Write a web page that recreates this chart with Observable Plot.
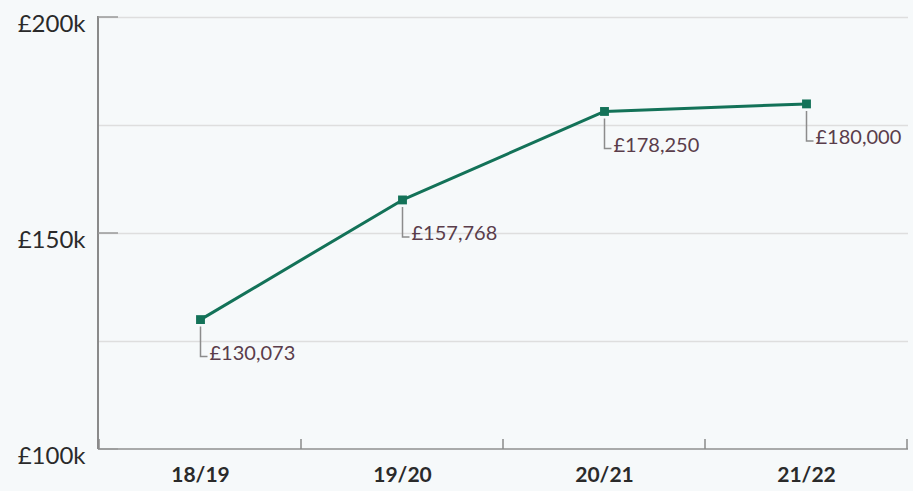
<!DOCTYPE html>
<html><head><meta charset="utf-8">
<script src="https://cdn.jsdelivr.net/npm/d3@7"></script>
<script src="https://cdn.jsdelivr.net/npm/@observablehq/plot@0.6"></script>
<style>html,body{margin:0;padding:0;background:#f6f9fa;}</style>
</head><body><div id="chart"></div>
<script>
const years = ["18/19", "19/20", "20/21", "21/22"];
const values = [130073, 157768, 178250, 180000];
const yTicks = [100000, 150000, 200000];
const gridValues = [125000, 150000, 175000, 200000];

const data = years.map((year, i) => ({year, value: values[i]}));
const fmtTick = d => "£" + d / 1000 + "k";
const fmtLabel = d => "£" + d3.format(",")(d);

const leader = {draw(ctx) { ctx.moveTo(0, 7); ctx.lineTo(0, 37); ctx.lineTo(7, 37); }};

function axes(index, {x, y}, values, dims) {
  const g = d3.create("svg:g").attr("fill", "none");
  const left = dims.marginLeft, right = dims.width - dims.marginRight;
  const y0 = y(100000), y1 = y(200000);
  g.append("line").attr("x1", left).attr("x2", right).attr("y1", y0).attr("y2", y0)
    .attr("stroke", "#8f8f8f").attr("stroke-width", 1.5);
  g.append("line").attr("x1", left).attr("x2", left).attr("y1", y1 - 1).attr("y2", y0)
    .attr("stroke", "#8a8a8a").attr("stroke-width", 2);
  for (const t of yTicks) {
    g.append("line").attr("x1", left).attr("x2", left + 20)
      .attr("y1", y(t)).attr("y2", y(t)).attr("stroke", "#9a9a9a").attr("stroke-width", 1.5);
  }
  const bounds = years.map(d => x(d)).concat([x(years[years.length - 1]) + x.bandwidth()]);
  for (const b of bounds) {
    g.append("line").attr("x1", b).attr("x2", b).attr("y1", y0).attr("y2", y0 - 10)
      .attr("stroke", "#8a8a8a").attr("stroke-width", 1.5);
  }
  return g.node();
}

const chart = Plot.plot({
  width: 913,
  height: 491,
  marginLeft: 98,
  marginRight: 5,
  marginTop: 17,
  marginBottom: 42,
  style: {background: "#f6f9fa", fontFamily: "Lato, 'Open Sans', sans-serif", overflow: "visible"},
  x: {type: "band", domain: years, padding: 0},
  y: {domain: [100000, 200000]},
  marks: [
    Plot.ruleY(gridValues, {stroke: "#dedede", strokeWidth: 1.5}),
    Plot.axisY(yTicks, {tickSize: 0, tickPadding: 13, dy: 7, tickFormat: fmtTick, fontSize: 24, fill: "#2a2a2a", label: null}),
    Plot.axisX({tickSize: 0, tickPadding: 18, fontSize: 21, fontWeight: "bold", fill: "#2a2a2a", label: null}),
    axes,
    Plot.dot(data, {x: "year", y: "value", symbol: leader, stroke: "#8c8c8c", fill: "none", strokeWidth: 1.5, r: 5}),
    Plot.line(data, {x: "year", y: "value", stroke: "#137258", strokeWidth: 3}),
    Plot.dot(data, {x: "year", y: "value", symbol: "square", fill: "#137258", r: 5}),
    Plot.text(data, {x: "year", y: "value", text: d => fmtLabel(d.value), dx: 9, dy: 34, textAnchor: "start", fontSize: 20, fill: "#5a3d4b"})
  ]
});
document.getElementById("chart").appendChild(chart);
</script>
</body></html>
